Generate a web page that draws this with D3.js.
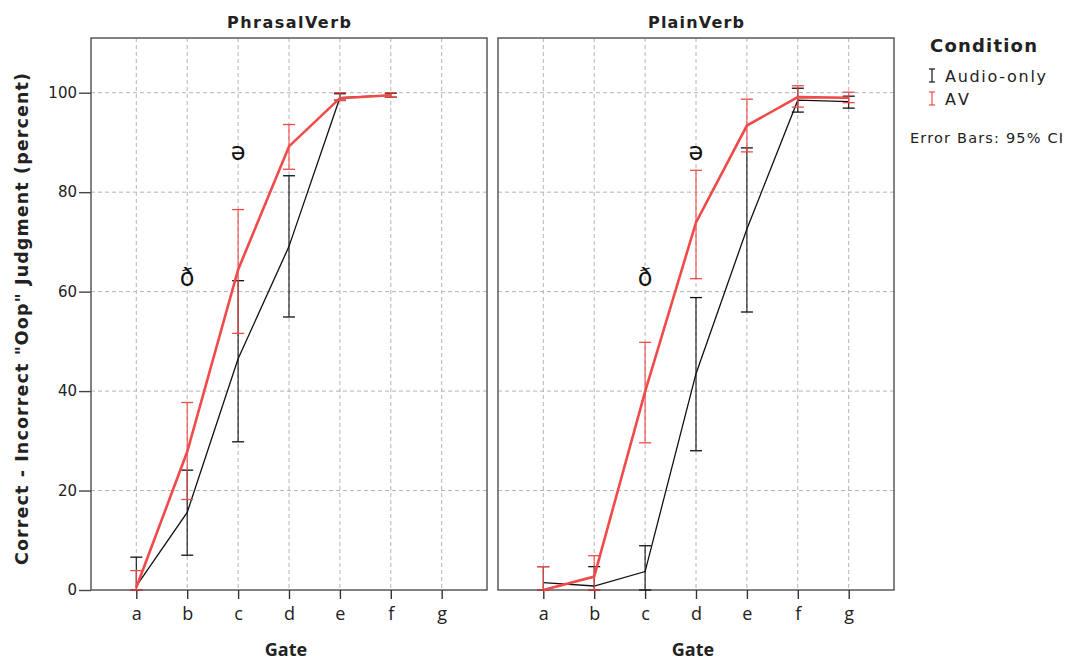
<!DOCTYPE html>
<html>
<head>
<meta charset="utf-8">
<script src="https://cdn.jsdelivr.net/npm/d3@7/dist/d3.min.js"></script>
<style>
  body { margin: 0; background: #fff; }
  svg text { font-family: "DejaVu Sans", "Open Sans", sans-serif; }
  .grid line { stroke: #b4b4b4; stroke-dasharray: 4,3; stroke-width: 1; }
  .frame { fill: none; stroke: #5a5a5a; stroke-width: 1.5; }
</style>
</head>
<body>
<svg id="chart" width="1068" height="662"></svg>
<script>
var gates = ['a', 'b', 'c', 'd', 'e', 'f', 'g'];
var yTicks = [0, 20, 40, 60, 80, 100];
var panels = ['PhrasalVerb', 'PlainVerb'];
var conditions = ['Audio-only', 'AV'];

// mean, lower CI, upper CI per gate (null = no data)
var phrasalAudioMean = [0.8, 15.6, 46.5, 69.1, 99.0, 99.5, null];
var phrasalAudioLow = [0, 7.0, 29.8, 54.9, 98.5, 99.1, null];
var phrasalAudioHigh = [6.6, 24.1, 62.2, 83.3, 99.8, 99.9, null];

var phrasalAVMean = [0.5, 27.8, 64.4, 89.2, 98.9, 99.5, null];
var phrasalAVLow = [0, 18.2, 51.6, 84.6, 98.4, 99.1, null];
var phrasalAVHigh = [3.9, 37.7, 76.5, 93.6, 100.0, 100.0, null];

var plainAudioMean = [1.5, 0.8, 3.7, 43.5, 72.6, 98.5, 98.2];
var plainAudioLow = [0, 0, 0, 28.0, 55.9, 96.1, 96.9];
var plainAudioHigh = [4.7, 4.7, 8.9, 58.8, 88.9, 100.9, 99.3];

var plainAVMean = [0, 2.7, 39.9, 73.9, 93.4, 99.1, 99.0];
var plainAVLow = [0, 0, 29.6, 62.6, 88.1, 97.1, 98.0];
var plainAVHigh = [4.7, 6.9, 49.8, 84.4, 98.7, 101.4, 100.1];

var annotations = [
  {panel: 0, gate: 'b', value: 61.2, label: 'ð'},
  {panel: 0, gate: 'c', value: 86.5, label: 'ə'},
  {panel: 1, gate: 'c', value: 61.2, label: 'ð'},
  {panel: 1, gate: 'd', value: 86.5, label: 'ə'}
];

function series(mean, low, high) {
  return gates.map(function(g, i) {
    return {gate: g, mean: mean[i], low: low[i], high: high[i]};
  }).filter(function(d) { return d.mean !== null; });
}

var data = [
  [series(phrasalAudioMean, phrasalAudioLow, phrasalAudioHigh), series(phrasalAVMean, phrasalAVLow, phrasalAVHigh)],
  [series(plainAudioMean, plainAudioLow, plainAudioHigh), series(plainAVMean, plainAVLow, plainAVHigh)]
];

var colors = {'Audio-only': '#111111', 'AV': '#f04a4a'};
var lineWidths = {'Audio-only': 1.3, 'AV': 2.6};

var svg = d3.select('#chart');
var plotTop = 38, plotBottom = 590;
var panelLeft = [91, 498];
var panelWidth = 396;

var y = d3.scaleLinear().domain([0, 111]).range([plotBottom, plotTop]);

panels.forEach(function(name, p) {
  var x = d3.scalePoint().domain(gates)
    .range([panelLeft[p], panelLeft[p] + panelWidth]).padding(0.89);

  var g = svg.append('g');

  var grid = g.append('g').attr('class', 'grid');
  grid.selectAll('.v').data(gates).enter().append('line')
    .attr('x1', function(d) { return x(d); }).attr('x2', function(d) { return x(d); })
    .attr('y1', plotTop).attr('y2', plotBottom);
  grid.selectAll('.h').data(yTicks.slice(1)).enter().append('line')
    .attr('x1', panelLeft[p]).attr('x2', panelLeft[p] + panelWidth)
    .attr('y1', function(d) { return y(d); }).attr('y2', function(d) { return y(d); });

  g.append('rect').attr('class', 'frame')
    .attr('x', panelLeft[p]).attr('y', plotTop)
    .attr('width', panelWidth).attr('height', plotBottom - plotTop);

  g.append('text')
    .attr('x', panelLeft[p] + panelWidth / 2).attr('y', 28)
    .attr('text-anchor', 'middle')
    .style('font-size', '16px').style('font-weight', 'bold').style('fill', '#222')
    .attr('textLength', p === 0 ? 124 : 96).attr('lengthAdjust', 'spacing')
    .text(name);

  // x axis
  var xAxis = g.append('g')
    .attr('transform', 'translate(0,' + plotBottom + ')')
    .call(d3.axisBottom(x).tickSize(9).tickPadding(8));
  xAxis.select('.domain').remove();
  xAxis.selectAll('line').attr('stroke', '#333').attr('stroke-width', 1.4);
  xAxis.selectAll('text')
    .style('font-family', '"Liberation Sans Narrow", "Open Sans", sans-serif')
    .style('font-size', '18px').style('fill', '#222');

  g.append('text')
    .attr('x', panelLeft[p] + panelWidth / 2 - 3).attr('y', 656)
    .attr('text-anchor', 'middle')
    .style('font-family', '"Liberation Sans Narrow", "Open Sans", sans-serif')
    .style('font-size', '18px').style('font-weight', 'bold').style('fill', '#222')
    .text('Gate');

  if (p === 0) {
    var yAxis = g.append('g')
      .attr('transform', 'translate(' + panelLeft[p] + ',0)')
      .call(d3.axisLeft(y).tickValues(yTicks).tickSize(12).tickPadding(2));
    yAxis.select('.domain').remove();
    yAxis.selectAll('line').attr('stroke', '#444').attr('stroke-width', 1.4);
    yAxis.selectAll('text').style('font-size', '15px').style('fill', '#222');
  }

  var line = d3.line()
    .x(function(d) { return x(d.gate); })
    .y(function(d) { return y(d.mean); });

  conditions.forEach(function(c, ci) {
    var s = data[p][ci];
    var col = colors[c];
    var eb = g.append('g');
    var bars = eb.selectAll('g').data(s).enter().append('g');
    bars.append('line')
      .attr('x1', function(d) { return x(d.gate); }).attr('x2', function(d) { return x(d.gate); })
      .attr('y1', function(d) { return y(d.low); }).attr('y2', function(d) { return y(d.high); })
      .attr('stroke', col).attr('stroke-width', 1.1);
    ['low', 'high'].forEach(function(k) {
      bars.append('line')
        .attr('x1', function(d) { return x(d.gate) - 6; }).attr('x2', function(d) { return x(d.gate) + 6; })
        .attr('y1', function(d) { return y(d[k]); }).attr('y2', function(d) { return y(d[k]); })
        .attr('stroke', col).attr('stroke-width', 1.3);
    });
    g.append('path').datum(s)
      .attr('d', line)
      .attr('fill', 'none')
      .attr('stroke', col)
      .attr('stroke-width', lineWidths[c]);
  });

  g.selectAll('.ann').data(annotations.filter(function(a) { return a.panel === p; }))
    .enter().append('text')
    .attr('x', function(d) { return x(d.gate); })
    .attr('y', function(d) { return y(d.value); })
    .attr('text-anchor', 'middle')
    .style('font-size', '24px').style('fill', '#111')
    .text(function(d) { return d.label; });
});

// y label
svg.append('text')
  .attr('transform', 'translate(28,' + ((plotTop + plotBottom) / 2 + 5) + ') rotate(-90)')
  .attr('text-anchor', 'middle')
  .style('font-size', '17.5px').style('font-weight', 'bold').style('fill', '#222')
  .attr('textLength', 492).attr('lengthAdjust', 'spacing')
  .text('Correct - Incorrect "Oop" Judgment (percent)');

// legend
var legend = svg.append('g');
legend.append('text').attr('x', 930).attr('y', 52)
  .style('font-size', '18px').style('font-weight', 'bold').style('fill', '#222')
  .attr('textLength', 107).attr('lengthAdjust', 'spacing')
  .text('Condition');
var legendWidths = {'Audio-only': 101, 'AV': 24};
conditions.forEach(function(c, i) {
  var ly = 76 + i * 23;
  var lg = legend.append('g').attr('stroke', colors[c]).attr('stroke-width', 1.2);
  lg.append('line').attr('x1', 932).attr('x2', 932).attr('y1', ly - 7).attr('y2', ly + 6);
  lg.append('line').attr('x1', 929).attr('x2', 935).attr('y1', ly - 7).attr('y2', ly - 7);
  lg.append('line').attr('x1', 929).attr('x2', 935).attr('y1', ly + 6).attr('y2', ly + 6);
  legend.append('text').attr('x', 945).attr('y', ly + 6)
    .style('font-size', '16px').style('fill', '#222')
    .attr('textLength', legendWidths[c]).attr('lengthAdjust', 'spacing')
    .text(c);
});
legend.append('text').attr('x', 910).attr('y', 143)
  .style('font-size', '14.5px').style('fill', '#222')
  .attr('textLength', 153).attr('lengthAdjust', 'spacing')
  .text('Error Bars: 95% CI');
</script>
</body>
</html>
